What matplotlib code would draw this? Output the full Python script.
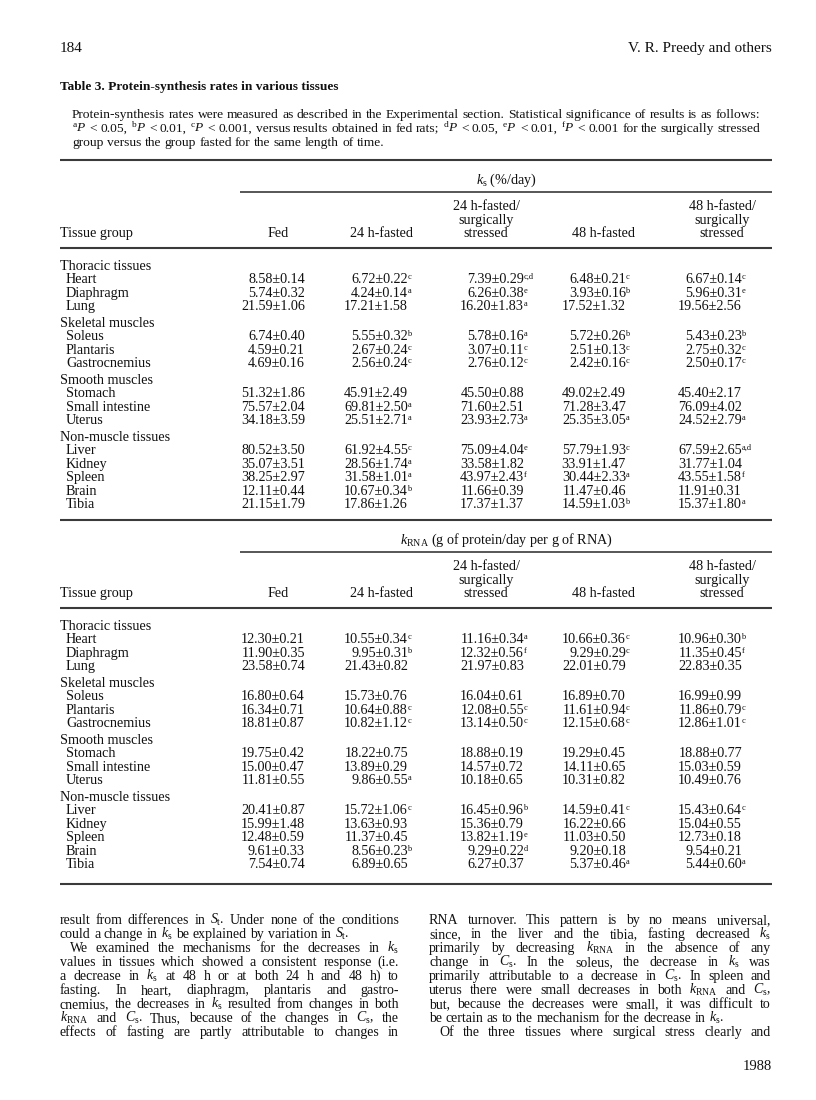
import matplotlib
matplotlib.use("Agg")
import matplotlib.pyplot as plt

# ---- table data -----------------------------------------------------------
groups = ["Thoracic tissues", "Skeletal muscles", "Smooth muscles", "Non-muscle tissues"]
tissues = [["Heart", "Diaphragm", "Lung"],
           ["Soleus", "Plantaris", "Gastrocnemius"],
           ["Stomach", "Small intestine", "Uterus"],
           ["Liver", "Kidney", "Spleen", "Brain", "Tibia"]]
col_heads = [["Fed"], ["24 h-fasted"], ["24 h-fasted/", "surgically", "stressed"],
             ["48 h-fasted"], ["48 h-fasted/", "surgically", "stressed"]]

# k_s (%/day): mean, s.e.m., significance letters  (columns: Fed, 24h, 24h+surg, 48h, 48h+surg)
ks_mean = [[8.58, 5.74, 21.59, 6.74, 4.59, 4.69, 51.32, 75.57, 34.18, 80.52, 35.07, 38.25, 12.11, 21.15],
           [6.72, 4.24, 17.21, 5.55, 2.67, 2.56, 45.91, 69.81, 25.51, 61.92, 28.56, 31.58, 10.67, 17.86],
           [7.39, 6.26, 16.20, 5.78, 3.07, 2.76, 45.50, 71.60, 23.93, 75.09, 33.58, 43.97, 11.66, 17.37],
           [6.48, 3.93, 17.52, 5.72, 2.51, 2.42, 49.02, 71.28, 25.35, 57.79, 33.91, 30.44, 11.47, 14.59],
           [6.67, 5.96, 19.56, 5.43, 2.75, 2.50, 45.40, 76.09, 24.52, 67.59, 31.77, 43.55, 11.91, 15.37]]
ks_sem = [[0.14, 0.32, 1.06, 0.40, 0.21, 0.16, 1.86, 2.04, 3.59, 3.50, 3.51, 2.97, 0.44, 1.79],
          [0.22, 0.14, 1.58, 0.32, 0.24, 0.24, 2.49, 2.50, 2.71, 4.55, 1.74, 1.01, 0.34, 1.26],
          [0.29, 0.38, 1.83, 0.16, 0.11, 0.12, 0.88, 2.51, 2.73, 4.04, 1.82, 2.43, 0.39, 1.37],
          [0.21, 0.16, 1.32, 0.26, 0.13, 0.16, 2.49, 3.47, 3.05, 1.93, 1.47, 2.33, 0.46, 1.03],
          [0.14, 0.31, 2.56, 0.23, 0.32, 0.17, 2.17, 4.02, 2.79, 2.65, 1.04, 1.58, 0.31, 1.80]]
ks_sig = [["", "", "", "", "", "", "", "", "", "", "", "", "", ""],
          ["c", "a", "", "b", "c", "c", "", "a", "a", "c", "a", "a", "b", ""],
          ["c,d", "e", "a", "a", "c", "c", "", "", "a", "e", "", "f", "", ""],
          ["c", "b", "", "b", "c", "c", "", "", "a", "c", "", "a", "", "b"],
          ["c", "e", "", "b", "c", "c", "", "", "a", "a,d", "", "f", "", "a"]]

# k_RNA (g of protein/day per g of RNA)
krna_mean = [[12.30, 11.90, 23.58, 16.80, 16.34, 18.81, 19.75, 15.00, 11.81, 20.41, 15.99, 12.48, 9.61, 7.54],
             [10.55, 9.95, 21.43, 15.73, 10.64, 10.82, 18.22, 13.89, 9.86, 15.72, 13.63, 11.37, 8.56, 6.89],
             [11.16, 12.32, 21.97, 16.04, 12.08, 13.14, 18.88, 14.57, 10.18, 16.45, 15.36, 13.82, 9.29, 6.27],
             [10.66, 9.29, 22.01, 16.89, 11.61, 12.15, 19.29, 14.11, 10.31, 14.59, 16.22, 11.03, 9.20, 5.37],
             [10.96, 11.35, 22.83, 16.99, 11.86, 12.86, 18.88, 15.03, 10.49, 15.43, 15.04, 12.73, 9.54, 5.44]]
krna_sem = [[0.21, 0.35, 0.74, 0.64, 0.71, 0.87, 0.42, 0.47, 0.55, 0.87, 1.48, 0.59, 0.33, 0.74],
            [0.34, 0.31, 0.82, 0.76, 0.88, 1.12, 0.75, 0.29, 0.55, 1.06, 0.93, 0.45, 0.23, 0.65],
            [0.34, 0.56, 0.83, 0.61, 0.55, 0.50, 0.19, 0.72, 0.65, 0.96, 0.79, 1.19, 0.22, 0.37],
            [0.36, 0.29, 0.79, 0.70, 0.94, 0.68, 0.45, 0.65, 0.82, 0.41, 0.66, 0.50, 0.18, 0.46],
            [0.30, 0.45, 0.35, 0.99, 0.79, 1.01, 0.77, 0.59, 0.76, 0.64, 0.55, 0.18, 0.21, 0.60]]
krna_sig = [["", "", "", "", "", "", "", "", "", "", "", "", "", ""],
            ["c", "b", "", "", "c", "c", "", "", "a", "c", "", "", "b", ""],
            ["a", "f", "", "", "c", "c", "", "", "", "b", "", "e", "d", ""],
            ["c", "c", "", "", "c", "c", "", "", "", "c", "", "", "", "a"],
            ["b", "f", "", "", "c", "c", "", "", "", "c", "", "", "", "a"]]

caption = [
    "Protein-synthesis rates were measured as described in the Experimental section. Statistical significance of results is as follows:",
    r"${}^{\rm a}P$ < 0.05, ${}^{\rm b}P$ < 0.01, ${}^{\rm c}P$ < 0.001, versus results obtained in fed rats; ${}^{\rm d}P$ < 0.05, ${}^{\rm e}P$ < 0.01, ${}^{\rm f}P$ < 0.001 for the surgically stressed",
    "group versus the group fasted for the same length of time.",
]
body_left = [
    r"result from differences in $S_{\rm t}$. Under none of the conditions",
    r"could a change in $k_{\rm s}$ be explained by variation in $S_{\rm t}$.",
    r"We examined the mechanisms for the decreases in $k_{\rm s}$",
    r"values in tissues which showed a consistent response (i.e.",
    r"a decrease in $k_{\rm s}$ at 48 h or at both 24 h and 48 h) to",
    r"fasting. In heart, diaphragm, plantaris and gastro-",
    r"cnemius, the decreases in $k_{\rm s}$ resulted from changes in both",
    r"$k_{\rm RNA}$ and $C_{\rm s}$. Thus, because of the changes in $C_{\rm s}$, the",
    r"effects of fasting are partly attributable to changes in",
]
body_right = [
    r"RNA turnover. This pattern is by no means universal,",
    r"since, in the liver and the tibia, fasting decreased $k_{\rm s}$",
    r"primarily by decreasing $k_{\rm RNA}$ in the absence of any",
    r"change in $C_{\rm s}$. In the soleus, the decrease in $k_{\rm s}$ was",
    r"primarily attributable to a decrease in $C_{\rm s}$. In spleen and",
    r"uterus there were small decreases in both $k_{\rm RNA}$ and $C_{\rm s}$,",
    r"but, because the decreases were small, it was difficult to",
    r"be certain as to the mechanism for the decrease in $k_{\rm s}$.",
    r"Of the three tissues where surgical stress clearly and",
]
# (indent, justified) per line
left_fmt = [(0, 1), (0, 0), (1, 1), (0, 1), (0, 1), (0, 1), (0, 1), (0, 1), (0, 1)]
right_fmt = [(0, 1), (0, 1), (0, 1), (0, 1), (0, 1), (0, 1), (0, 1), (0, 0), (1, 1)]

# ---- drawing ---------------------------------------------------------------
plt.rcParams["font.family"] = "Liberation Serif"
plt.rcParams["mathtext.fontset"] = "custom"
plt.rcParams["mathtext.rm"] = "Liberation Serif"
plt.rcParams["mathtext.it"] = "Liberation Serif:italic"
plt.rcParams["mathtext.bf"] = "Liberation Serif:bold"

fig = plt.figure(figsize=(8.16, 11.0), dpi=100)
ax = fig.add_axes([0, 0, 1, 1])
ax.set_xlim(0, 816)
ax.set_ylim(1100, 0)
ax.axis("off")
renderer = fig.canvas.get_renderer()
INK = "#111111"


def put(x, y, s, size=10, ha="left", **kw):
    return ax.text(x, y, s, fontsize=size, ha=ha, va="baseline", color=INK, **kw)


def justify(line, x0, x1, y, size, stretch=True):
    words = line.split(" ")
    # keep math tokens together
    merged, buf = [], ""
    for w in words:
        buf = w if not buf else buf + " " + w
        if buf.count("$") % 2 == 0:
            merged.append(buf)
            buf = ""
    texts = [put(0, y, w, size) for w in merged]
    widths = [t.get_window_extent(renderer).width for t in texts]
    t1, t2 = put(0, y, "a a", size), put(0, y, "aa", size)
    space = t1.get_window_extent(renderer).width - t2.get_window_extent(renderer).width
    t1.remove(); t2.remove()
    if stretch and len(merged) > 1:
        gap = (x1 - x0 - sum(widths)) / (len(merged) - 1)
    else:
        gap = space
    x = x0
    for t, w in zip(texts, widths):
        t.set_x(x)
        x += w + gap


def hrule(y, x0=60, x1=772, lw=1.5):
    ax.plot([x0, x1], [y, y], color="#3a3a3a", lw=lw, solid_capstyle="butt")


L, R = 60, 772

# page header
put(L, 52, "184", 11)
put(R, 52, "V. R. Preedy and others", 11, ha="right")
put(L, 90, "Table 3. Protein-synthesis rates in various tissues", 9.6, fontweight="bold")

# caption
for i, line in enumerate(caption):
    justify(line, 72, 760, 118 + 14 * i, 9.7, stretch=(i < 2))

col_right = [305, 408, 524, 626, 742]
col_center = [278, 381, 486, 604, 722]
STEP = 13.45


def draw_table(y_top, title, mean, sem, sig):
    hrule(y_top)
    put((240 + R) / 2, y_top + 24, title, 10.2, ha="center")
    hrule(y_top + 32, 240, R, 1.2)
    hy = y_top + 77
    put(L, hy, "Tissue group", 10.2)
    for c, head in enumerate(col_heads):
        for k, h in enumerate(head[::-1]):
            put(col_center[c], hy - 13.3 * k, h, 10.2, ha="center")
    hrule(y_top + 88)
    y = y_top + 110
    r = 0
    for g, grp in enumerate(groups):
        if g > 0:
            y += STEP + 3.2
        put(L, y, grp, 10.2)
        for name in tissues[g]:
            y += STEP
            put(L + 6, y, name, 10.2)
            for c in range(5):
                put(col_right[c], y, "%.2f\u00b1%.2f" % (mean[c][r], sem[c][r]), 10.2, ha="right")
                if sig[c][r]:
                    put(col_right[c] - 0.5, y - 4.2, sig[c][r], 6)
            r += 1


draw_table(160, r"$k_{\rm s}$ (%/day)", ks_mean, ks_sem, ks_sig)
draw_table(520, r"$k_{\rm RNA}$ (g of protein/day per g of RNA)", krna_mean, krna_sem, krna_sig)
hrule(884)

# body text, two columns
for lines, fmt, x0, x1 in [(body_left, left_fmt, 60, 399), (body_right, right_fmt, 429, 771)]:
    for i, (line, (ind, just)) in enumerate(zip(lines, fmt)):
        justify(line, x0 + 10 * ind, x1, 924 + 14 * i, 10.0, stretch=bool(just))

put(R, 1070, "1988", 10.5, ha="right")

fig.savefig("out.png", dpi=100)
